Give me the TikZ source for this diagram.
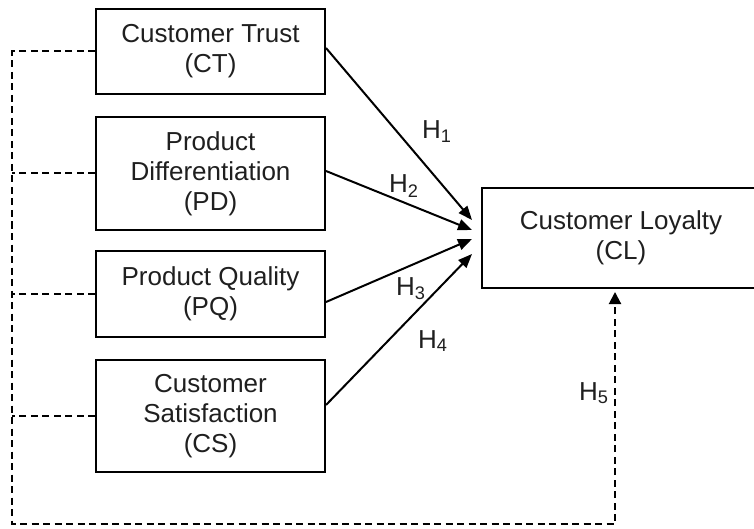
\documentclass[tikz,border=0pt]{standalone}
\usepackage{fontspec}
\setmainfont{Liberation Sans}
\usetikzlibrary{arrows.meta,calc}
\begin{document}
\begin{tikzpicture}[x=1pt,y=-1pt,
  box/.style={draw, line width=2pt, inner sep=0pt, align=center,
    font=\fontsize{26}{30}\selectfont, text=black!88},
  effect/.style={line width=2pt, -{Triangle[length=14pt,width=11pt]}},
  link/.style={line width=2pt, dash pattern=on 7pt off 4.5pt},
  hyp/.style={font=\fontsize{26}{30}\selectfont, text=black!88, inner sep=0pt, anchor=base west}]
\useasboundingbox (0,0) rectangle (754,529);
\clip (0,0) rectangle (754,529);

% constructs
\node[box, minimum width=229pt, minimum height=85pt]  (CT) at (210.5,51.5) {Customer Trust\\(CT)};
\node[box, minimum width=229pt, minimum height=113pt] (PD) at (210.5,173.5) {Product\\Differentiation\\(PD)};
\node[box, minimum width=229pt, minimum height=86pt]  (PQ) at (210.5,294) {Product Quality\\(PQ)};
\node[box, minimum width=229pt, minimum height=112pt] (CS) at (210.5,416) {Customer\\Satisfaction\\(CS)};
\node[box, minimum width=278pt, minimum height=100pt] (CL) at (621,238) {Customer Loyalty\\(CL)};

% direct effects H1-H4
\draw[effect] ([yshift=3.5pt]CT.east) -- ([xshift=-9pt,yshift=18pt]CL.west);
\draw[effect] ([yshift=2.5pt]PD.east) -- ([xshift=-9pt,yshift=8pt]CL.west);
\draw[effect] ([yshift=-8pt]PQ.east)  -- ([xshift=-9pt,yshift=-1pt]CL.west);
\draw[effect] ([yshift=11pt]CS.east)  -- ([xshift=-9pt,yshift=-16pt]CL.west);

% joint effect H5 (dashed frame)
\coordinate (TL) at (12,51.5);
\coordinate (BL) at (12,524);
\coordinate (BR) at (615,524);
\coordinate (CLin) at (CL.south -| BR);
\draw[link] (CT.west) -- (TL) -- (BL) -- (BR) -- ([yshift=-3pt]CLin);
\draw[line width=2pt, -{Triangle[length=12pt,width=12pt]}] ([yshift=-14pt]CLin) -- ([yshift=-3pt]CLin);
\draw[link] (PD.west) -- (PD.west -| TL);
\draw[link] (PQ.west) -- (PQ.west -| TL);
\draw[link] (CS.west) -- (CS.west -| TL);

% hypothesis labels
\node[hyp] (h1) at (422,139) {H\textsubscript{1}};
\node[hyp] (h2) at (389,193) {H\textsubscript{2}};
\node[hyp] (h3) at (396,295) {H\textsubscript{3}};
\node[hyp] (h4) at (418,348) {H\textsubscript{4}};
\node[hyp] (h5) at (579,400) {H\textsubscript{5}};
\end{tikzpicture}
\end{document}
